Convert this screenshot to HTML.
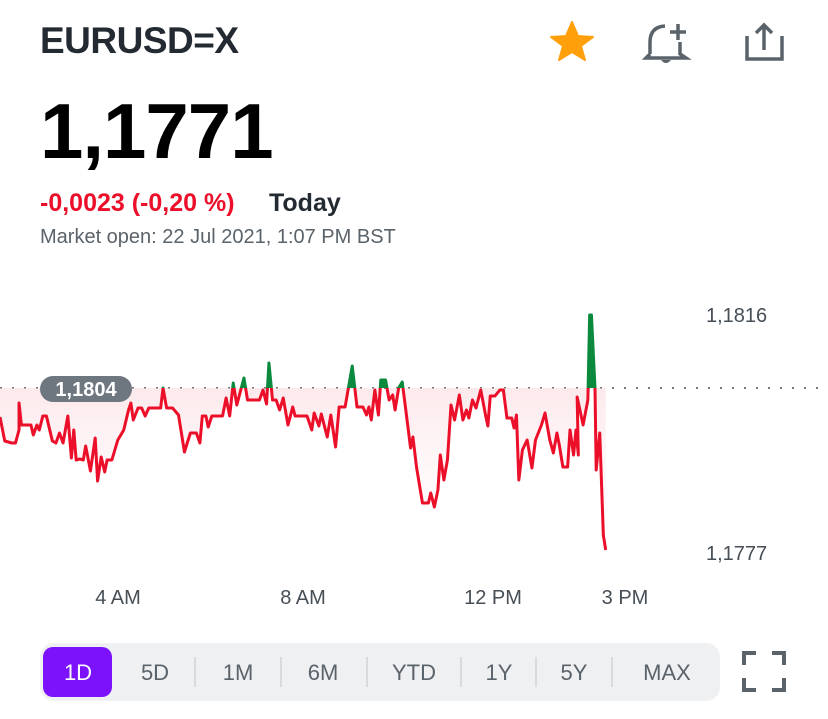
<!DOCTYPE html>
<html><head><meta charset="utf-8"><style>
body{margin:0;width:828px;height:719px;background:#fff;font-family:"Liberation Sans",sans-serif;position:relative;overflow:hidden}
.a{position:absolute;white-space:nowrap}
</style></head><body>
<div class="a" style="left:40px;top:20px;font-size:37px;font-weight:bold;color:#232a31;letter-spacing:-0.5px">EURUSD=X</div>
<div class="a" style="left:40px;top:86px;font-size:78px;font-weight:bold;color:#000;letter-spacing:-1px">1,1771</div>
<div class="a" style="left:40px;top:189px;font-size:25px;font-weight:bold;color:#eb0f29">-0,0023 (-0,20 %)</div>
<div class="a" style="left:269px;top:189px;font-size:25px;font-weight:bold;color:#232a31">Today</div>
<div class="a" style="left:40px;top:226px;font-size:20px;color:#5b636a">Market open: 22 Jul 2021, 1:07 PM BST</div>
<svg class="a" style="left:0;top:0" width="828" height="719">
<polygon points="572,22 578,36 593,37 581,46 585,60 572,52 559,60 563,46 551,37 566,36" fill="#ff9f0a" stroke="#ff9f0a" stroke-width="2" stroke-linejoin="round"/>
<path d="M650,54 L650,42 Q650,27 665,26 M680,42 L680,54 L686,58 L646,58 L650,54" fill="none" stroke="#5b636a" stroke-width="3.5"/>
<path d="M661,60 Q666,66 671,60Z" fill="#5b636a"/>
<path d="M678,24 v16 M670,32 h16" stroke="#5b636a" stroke-width="3.5"/>
<path d="M747,36 v23 h35 v-23 M764,50 v-24 M756,33 l8,-8 8,8" fill="none" stroke="#5b636a" stroke-width="3.5"/>
<defs>
<clipPath id="below"><rect x="0" y="388" width="828" height="300"/></clipPath>
<clipPath id="above"><rect x="0" y="250" width="828" height="138"/></clipPath>
<linearGradient id="g" x1="0" y1="0" x2="0" y2="1"><stop offset="0" stop-color="#f7c4cb" stop-opacity="0.7"/><stop offset="1" stop-color="#fff" stop-opacity="0.2"/></linearGradient>
</defs>
<line x1="0" y1="388" x2="828" y2="388" stroke="#777" stroke-width="2" stroke-dasharray="2,10"/>
<g clip-path="url(#below)"><g transform="scale(1.19,1)">
<polygon fill="url(#g)" points="0,388 0,417 4,441 10,443 13,443 16,430 16,403 18,425 26,425 28,435 31,425 33,430 36,416 39,416 44,441 47,443 50,433 53,443 57,416 60,458 62,430 64,460 67,459 70,460 72,446 76,471 80,438 82,481 85,457 88,472 90,460 94,460 99,440 104,430 108,410 110,403 112,420 116,408 119,408 122,416 125,408 135,408 137,388 140,408 145,408 150,415 155,452 160,433 165,433 168,443 170,416 173,416 175,427 178,416 187,416 190,398 193,416 196,383 199,405 205,378 208,400 218,400 221,390 224,404 226,363 229,400 232,400 235,410 238,398 242,425 246,407 248,416 258,416 262,430 264,413 268,426 270,414 275,437 278,415 282,447 285,407 290,407 296,366 300,407 305,407 308,415 310,407 312,420 315,390 318,415 320,380 324,380 327,400 330,395 332,410 335,388 338,382 341,410 345,448 347,437 350,467 355,503 360,503 362,493 365,507 368,490 370,455 373,480 376,460 379,405 382,420 386,395 389,420 392,410 394,418 397,400 400,408 404,390 408,415 410,426 412,396 416,396 420,390 423,390 426,418 430,418 432,428 434,415 436,480 439,450 443,440 447,468 450,440 455,425 458,413 462,440 465,453 468,433 470,445 473,467 477,467 479,430 482,455 484,430 486,455 485,397 490,425 494,400 495.5,315 497,315 500,388 501,470 504,433 507,535 509,550 509,388"/>
<polyline fill="none" stroke="#eb0f29" stroke-width="3" vector-effect="non-scaling-stroke" stroke-linejoin="round" points="0,417 4,441 10,443 13,443 16,430 16,403 18,425 26,425 28,435 31,425 33,430 36,416 39,416 44,441 47,443 50,433 53,443 57,416 60,458 62,430 64,460 67,459 70,460 72,446 76,471 80,438 82,481 85,457 88,472 90,460 94,460 99,440 104,430 108,410 110,403 112,420 116,408 119,408 122,416 125,408 135,408 137,388 140,408 145,408 150,415 155,452 160,433 165,433 168,443 170,416 173,416 175,427 178,416 187,416 190,398 193,416 196,383 199,405 205,378 208,400 218,400 221,390 224,404 226,363 229,400 232,400 235,410 238,398 242,425 246,407 248,416 258,416 262,430 264,413 268,426 270,414 275,437 278,415 282,447 285,407 290,407 296,366 300,407 305,407 308,415 310,407 312,420 315,390 318,415 320,380 324,380 327,400 330,395 332,410 335,388 338,382 341,410 345,448 347,437 350,467 355,503 360,503 362,493 365,507 368,490 370,455 373,480 376,460 379,405 382,420 386,395 389,420 392,410 394,418 397,400 400,408 404,390 408,415 410,426 412,396 416,396 420,390 423,390 426,418 430,418 432,428 434,415 436,480 439,450 443,440 447,468 450,440 455,425 458,413 462,440 465,453 468,433 470,445 473,467 477,467 479,430 482,455 484,430 486,455 485,397 490,425 494,400 495.5,315 497,315 500,388 501,470 504,433 507,535 509,550"/>
</g></g>
<g clip-path="url(#above)"><g transform="scale(1.19,1)">
<polygon fill="#0b8a3e" stroke="#0b8a3e" stroke-width="3" vector-effect="non-scaling-stroke" stroke-linejoin="round" points="0,417 4,441 10,443 13,443 16,430 16,403 18,425 26,425 28,435 31,425 33,430 36,416 39,416 44,441 47,443 50,433 53,443 57,416 60,458 62,430 64,460 67,459 70,460 72,446 76,471 80,438 82,481 85,457 88,472 90,460 94,460 99,440 104,430 108,410 110,403 112,420 116,408 119,408 122,416 125,408 135,408 137,388 140,408 145,408 150,415 155,452 160,433 165,433 168,443 170,416 173,416 175,427 178,416 187,416 190,398 193,416 196,383 199,405 205,378 208,400 218,400 221,390 224,404 226,363 229,400 232,400 235,410 238,398 242,425 246,407 248,416 258,416 262,430 264,413 268,426 270,414 275,437 278,415 282,447 285,407 290,407 296,366 300,407 305,407 308,415 310,407 312,420 315,390 318,415 320,380 324,380 327,400 330,395 332,410 335,388 338,382 341,410 345,448 347,437 350,467 355,503 360,503 362,493 365,507 368,490 370,455 373,480 376,460 379,405 382,420 386,395 389,420 392,410 394,418 397,400 400,408 404,390 408,415 410,426 412,396 416,396 420,390 423,390 426,418 430,418 432,428 434,415 436,480 439,450 443,440 447,468 450,440 455,425 458,413 462,440 465,453 468,433 470,445 473,467 477,467 479,430 482,455 484,430 486,455 485,397 490,425 494,400 495.5,315 497,315 500,388 501,470 504,433 507,535 509,550"/>
</g></g>
<rect x="40" y="376" width="92" height="26" rx="13" fill="#6e7780"/>
<text x="86" y="396" text-anchor="middle" font-size="20" font-weight="bold" fill="#fff" font-family="Liberation Sans">1,1804</text>
<g font-family="Liberation Sans" font-size="20" fill="#464e56">
<text x="706" y="322">1,1816</text>
<text x="706" y="560">1,1777</text>
<text x="118" y="604" text-anchor="middle">4 AM</text>
<text x="303" y="604" text-anchor="middle">8 AM</text>
<text x="493" y="604" text-anchor="middle">12 PM</text>
<text x="625" y="604" text-anchor="middle">3 PM</text>
</g>
<rect x="40" y="643" width="680" height="58" rx="14" fill="#eff0f1"/>
<rect x="43" y="647" width="69" height="50" rx="10" fill="#7c12fc"/>
<g stroke="#d0d3d6" stroke-width="1.5"><line x1="195" y1="657" x2="195" y2="687"/><line x1="281" y1="657" x2="281" y2="687"/><line x1="367" y1="657" x2="367" y2="687"/><line x1="461" y1="657" x2="461" y2="687"/><line x1="536" y1="657" x2="536" y2="687"/><line x1="612" y1="657" x2="612" y2="687"/></g>
<g font-family="Liberation Sans" font-size="22" fill="#5b636a" text-anchor="middle">
<text x="78" y="680" fill="#fff">1D</text><text x="155" y="680">5D</text><text x="238" y="680">1M</text><text x="323" y="680">6M</text><text x="414" y="680">YTD</text><text x="499" y="680">1Y</text><text x="574" y="680">5Y</text><text x="667" y="680">MAX</text>
</g>
<path d="M744,665 v-12 h12 M772,653 h12 v12 M784,678 v12 h-12 M756,690 h-12 v-12" fill="none" stroke="#5b636a" stroke-width="4"/>
</svg>
</body></html>
